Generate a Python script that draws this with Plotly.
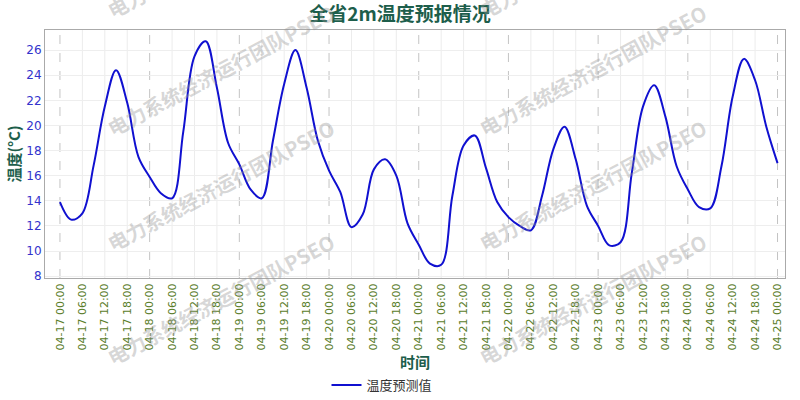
import pandas as pd
import plotly.graph_objects as go

# 3-hourly forecast, 04-17 00:00 .. 04-25 00:00
start = "2024-04-17 00:00"
temps = [13.9, 12.5, 13.0, 16.8, 21.5, 24.4, 21.8, 17.5, 15.9, 14.6, 14.2,
         19.5, 25.5, 26.7, 23.0, 18.6, 16.9, 14.9, 14.2, 18.8, 23.3, 26.0,
         23.0, 18.8, 16.4, 14.7, 11.9, 12.9, 16.5, 17.3, 16.0, 12.2, 10.5,
         9.0, 8.9, 14.4, 18.4, 19.2, 16.6, 13.9, 12.7, 12.0, 11.65, 14.4,
         18.1, 19.9, 17.3, 13.6, 12.0, 10.45, 10.7, 16.2, 21.5, 23.2, 20.7,
         16.75, 14.9, 13.5, 13.4, 16.75, 22.3, 25.3, 23.6, 19.9, 17.0]
times = pd.date_range(start, periods=len(temps), freq="3h")
tick_times = pd.date_range(start, times[-1], freq="6h")
day_times = pd.date_range(start, times[-1], freq="24h")
y_ticks = [8, 10, 12, 14, 16, 18, 20, 22, 24, 26]

WATERMARK = "电力系统经济运行团队PSEO"
CJK = "Noto Sans CJK SC"
GREEN = "#1d5e4b"

fig = go.Figure()
fig.add_trace(go.Scatter(x=times, y=temps, mode="lines", name="温度预测值",
                         line=dict(color="#1010d0", width=2, shape="spline", smoothing=1.0)))

L, R, T, B = 45, 15, 30, 122
W, H = 800, 400
pw, ph = W - L - R, H - T - B

# vertical grid: light solid every 6h, dashed every day
shapes = [dict(type="line", xref="x", yref="paper", x0=t.strftime("%Y-%m-%d %H:%M"),
               x1=t.strftime("%Y-%m-%d %H:%M"), y0=0, y1=1, layer="below",
               line=dict(color="#ececec", width=1)) for t in tick_times if t not in day_times]
shapes += [dict(type="line", xref="x", yref="paper", x0=d.strftime("%Y-%m-%d %H:%M"),
                x1=d.strftime("%Y-%m-%d %H:%M"), y0=0, y1=1, layer="below",
                line=dict(color="#c4c4c4", width=1, dash="dash")) for d in day_times]

annotations = []
for sx in (110, 482):
    for sy in (10, 128, 243, 357):
        cx, cy = sx + 110, sy - 58
        annotations.append(dict(text=f"<b>{WATERMARK}</b>", xref="paper", yref="paper",
                                x=(cx - L) / pw, y=(H - B - cy) / ph, xanchor="center", yanchor="middle",
                                showarrow=False, textangle=-28,
                                font=dict(family=CJK, size=20, color="rgba(150,150,150,0.38)")))

fig.update_layout(
    width=W, height=H,
    margin=dict(l=L, r=R, t=T, b=B, autoexpand=False),
    paper_bgcolor="white", plot_bgcolor="white",
    font=dict(family=CJK),
    title=dict(text="<b>全省2m温度预报情况</b>", x=0.5, xanchor="center", y=1 - 14 / H, yanchor="middle",
               yref="container", font=dict(family=CJK, size=19, color=GREEN)),
    showlegend=True,
    legend=dict(orientation="h", x=(382 - L) / pw, xanchor="center", y=(H - B - 385) / ph, yanchor="middle",
                font=dict(family=CJK, size=13, color="#333333"), itemwidth=30),
    shapes=shapes,
    annotations=annotations,
)
fig.update_xaxes(
    range=[times[0] - pd.Timedelta(hours=4), times[-1] + pd.Timedelta(hours=2)],
    tickvals=tick_times, ticktext=[t.strftime("%m-%d %H:%M") for t in tick_times],
    tickangle=-90, tickfont=dict(family="DejaVu Sans", size=11, color="#5a7d2a"),
    showgrid=False,
    showline=True, linecolor="#aaaaaa", mirror=True, ticks="",
    title=dict(text="<b>时间</b>", font=dict(family=CJK, size=15, color=GREEN), standoff=4),
    zeroline=False, automargin=False,
)
fig.update_yaxes(
    range=[7.85, 27.6], tickvals=y_ticks,
    tickfont=dict(family="DejaVu Sans", size=12, color="#3333cc"),
    showgrid=True, gridcolor="#eeeeee", gridwidth=1,
    showline=True, linecolor="#aaaaaa", mirror=True, ticks="",
    title=dict(text="<b>温度(°C)</b>", font=dict(family=CJK, size=15, color=GREEN), standoff=2),
    zeroline=False, automargin=False,
)

# page has a default 8px body margin; drop it so the chart fills the window
fig.write_html("out.html", config={"displayModeBar": False},
               post_script="document.body.style.margin='0';")
